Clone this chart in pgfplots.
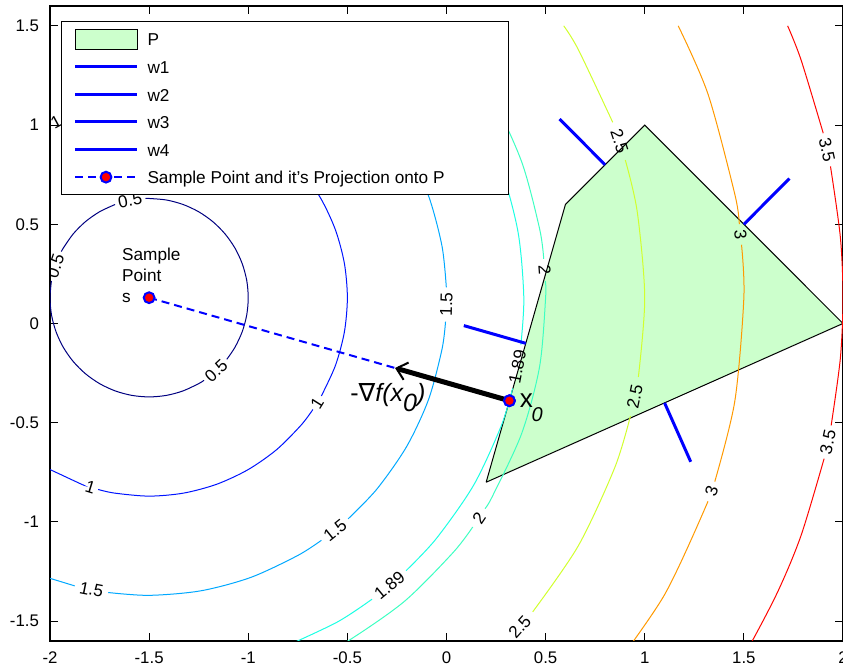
\documentclass[border=0pt]{standalone}
\usepackage{fontspec}
\setmainfont{Liberation Sans}
\newfontfamily\dejavu{DejaVu Sans}
\usepackage{pgfplots}
\pgfplotsset{compat=1.18}
\usetikzlibrary{arrows.meta}
\definecolor{c05}{rgb}{0,0,0.5}
\definecolor{c10}{rgb}{0,0.08,1}
\definecolor{c15}{rgb}{0,0.66,1}
\definecolor{c189}{rgb}{0.11,1,0.89}
\definecolor{c20}{rgb}{0.24,1,0.76}
\definecolor{c25}{rgb}{0.82,1,0.18}
\definecolor{c30}{rgb}{1,0.6,0}
\definecolor{c35}{rgb}{1,0.02,0}
\definecolor{polyg}{rgb}{0.8,1,0.8}
\newcommand\lbl{\fontsize{8.6}{10}\selectfont}
\newcommand\lst{\rule[-2.2pt]{0pt}{10.5pt}}
\pgfplotsset{
  patchlegend/.style={legend image code/.code={\draw[##1] (0pt,-5pt) rectangle (31pt,5pt);}},
  linelegend/.style={legend image code/.code={\draw[mark repeat=2,mark phase=2,##1] plot coordinates {(0pt,0pt) (15.5pt,0pt) (31pt,0pt)};}},
}
\begin{document}
\begin{tikzpicture}
\begin{axis}[
  scale only axis, width=396.5pt, height=317.5pt,
  xmin=-2, xmax=2, ymin=-1.6, ymax=1.6,
  xtick={-2,-1.5,-1,-0.5,0,0.5,1,1.5,2},
  ytick={-1.5,-1,-0.5,0,0.5,1,1.5},
  tick align=inside, major tick length=4pt,
  tick style={black, line width=0.5pt},
  axis line style={black, line width=0.6pt},
  every tick label/.append style={font=\fontsize{8.4}{10}\selectfont},
  /pgf/number format/assume math mode=true,
  xticklabel style={yshift=-2pt},
  yticklabel style={xshift=-2pt},
  legend cell align=left,
  linelegend,
  legend style={at={(axis cs:-1.9445,1.525)}, anchor=north west, font=\lbl,
    draw=black, line width=0.5pt, fill=white, inner xsep=6pt, inner ysep=2pt,
    nodes={inner sep=2pt}, row sep=0pt,
    /tikz/every odd column/.append style={column sep=2.5pt}},
]
% polygon P
\addplot[fill=polyg, draw=black, line width=0.5pt, patchlegend]
  coordinates {(0.2,-0.8) (0.6,0.6) (1,1) (2,0) (0.2,-0.8)};

% contour 0.5
\addplot[c05, line width=0.5pt, smooth, forget plot] coordinates {(-1.1082,-0.1806) (-1.0670,-0.1200) (-1.0302,-0.0410) (-1.0076,0.0432) (-1.0,0.13) (-1.0076,0.2168) (-1.0302,0.3010) (-1.0670,0.3800) (-1.1170,0.4514) (-1.1786,0.5130) (-1.25,0.5630) (-1.3290,0.5998) (-1.4132,0.6224) (-1.5,0.63) (-1.5183,0.6297)};
\addplot[c05, line width=0.5pt, smooth, forget plot] coordinates {(-1.6718,0.5996) (-1.75,0.5630) (-1.8214,0.5130) (-1.8830,0.4514) (-1.9330,0.3800) (-1.9427,0.3624)};
\addplot[c05, line width=0.5pt, smooth, forget plot] coordinates {(-1.9929,0.2142) (-2.0,0.13) (-1.9924,0.0432) (-1.9698,-0.0410) (-1.9330,-0.1200) (-1.8830,-0.1914) (-1.8214,-0.2530) (-1.75,-0.3030) (-1.6710,-0.3398) (-1.5868,-0.3624) (-1.5,-0.37) (-1.4132,-0.3624) (-1.3290,-0.3398) (-1.25,-0.3030) (-1.2233,-0.2865)};

% contour 1
\addplot[c10, line width=0.5pt, smooth, forget plot] coordinates {(-2.0,-0.7360) (-1.8420,-0.8097) (-1.8338,-0.8126)};
\addplot[c10, line width=0.5pt, smooth, forget plot] coordinates {(-1.7571,-0.8364) (-1.6737,-0.8548) (-1.5,-0.87) (-1.3264,-0.8548) (-1.1580,-0.8097) (-1.0,-0.7360) (-0.8572,-0.6360) (-0.7340,-0.5128) (-0.6739,-0.4335)};
\addplot[c10, line width=0.5pt, smooth, forget plot] coordinates {(-0.6314,-0.3655) (-0.5603,-0.2120) (-0.5152,-0.0437) (-0.5,0.13) (-0.5152,0.3037) (-0.5603,0.4720) (-0.6340,0.63) (-0.7340,0.7728) (-0.8572,0.8960) (-1.0,0.9960) (-1.1580,1.0697) (-1.3264,1.1148) (-1.5,1.13) (-1.6737,1.1148) (-1.8420,1.0697) (-1.9352,1.0303)};

% contour 1.5
\addplot[c15, line width=0.5pt, smooth, forget plot] coordinates {(-2.0,-1.2842) (-1.8756,-1.3222)};
\addplot[c15, line width=0.5pt, smooth, forget plot] coordinates {(-1.7062,-1.3558) (-1.5,-1.37) (-1.2395,-1.3472) (-0.9870,-1.2795) (-0.75,-1.1690) (-0.6311,-1.0927)};
\addplot[c15, line width=0.5pt, smooth, forget plot] coordinates {(-0.4963,-0.9847) (-0.3509,-0.8342) (-0.2010,-0.62) (-0.0905,-0.3830) (-0.0228,-0.1305) (-0.0048,0.0097)};
\addplot[c15, line width=0.5pt, smooth, forget plot] coordinates {(-0.0009,0.1824) (-0.0228,0.3905) (-0.0905,0.6430) (-0.2010,0.88) (-0.3509,1.0942) (-0.5358,1.2791) (-0.75,1.4290) (-0.8892,1.5)};

% contour 1.89
\addplot[c189, line width=0.5pt, smooth, forget plot] coordinates {(-0.8536,-1.6460) (-0.555,-1.5068) (-0.3757,-1.3894)};
\addplot[c189, line width=0.5pt, smooth, forget plot] coordinates {(-0.2038,-1.2455) (-0.0522,-1.0849) (0.1368,-0.815) (0.2760,-0.5164) (0.3339,-0.3272)};
\addplot[c189, line width=0.5pt, smooth, forget plot] coordinates {(0.3751,-0.1069) (0.39,0.13) (0.3613,0.4582) (0.2760,0.7764) (0.1368,1.075) (-0.0522,1.3449) (-0.1980,1.5)};

% contour 2
\addplot[c20, line width=0.5pt, smooth, forget plot] coordinates {(-0.6548,-1.6826) (-0.5,-1.6021) (-0.2144,-1.4021) (0.0321,-1.1556) (0.1323,-1.0257)};
\addplot[c20, line width=0.5pt, smooth, forget plot] coordinates {(0.1942,-0.9328) (0.2321,-0.87) (0.3794,-0.5540) (0.4696,-0.2173) (0.5,0.13) (0.4982,0.2138)};
\addplot[c20, line width=0.5pt, smooth, forget plot] coordinates {(0.4905,0.3252) (0.4696,0.4773) (0.3794,0.8140) (0.2321,1.13) (0.0321,1.4156) (-0.0429,1.5)};

% contour 2.5
\addplot[c25, line width=0.5pt, smooth, forget plot] coordinates {(0.4346,-1.4535) (0.6651,-1.12) (0.8492,-0.7251) (0.9278,-0.4663)};
\addplot[c25, line width=0.5pt, smooth, forget plot] coordinates {(0.9679,-0.2697) (1.0,0.13) (0.9620,0.5641) (0.9020,0.8233)};
\addplot[c25, line width=0.5pt, smooth, forget plot] coordinates {(0.8386,1.0137) (0.6651,1.38) (0.5912,1.5)};

% contour 3
\addplot[c30, line width=0.5pt, smooth, forget plot] coordinates {(0.7981,-1.7984) (1.0981,-1.37) (1.3191,-0.8961)};
\addplot[c30, line width=0.5pt, smooth, forget plot] coordinates {(1.3532,-0.7971) (1.4544,-0.3910) (1.5,0.13) (1.4881,0.3967)};
\addplot[c30, line width=0.5pt, smooth, forget plot] coordinates {(1.4770,0.5008) (1.4544,0.6510) (1.3191,1.1561) (1.1689,1.5)};

% contour 3.5
\addplot[c35, line width=0.5pt, smooth, forget plot] coordinates {(1.4353,-1.7762) (1.5311,-1.62) (1.6721,-1.3492) (1.7889,-1.0671) (1.9047,-0.6811)};
\addplot[c35, line width=0.5pt, smooth, forget plot] coordinates {(1.9403,-0.5139) (1.9867,-0.1751) (2.0,0.13) (1.9867,0.4351) (1.9369,0.7918)};
\addplot[c35, line width=0.5pt, smooth, forget plot] coordinates {(1.9004,0.9589) (1.7889,1.3271) (1.7208,1.5)};

% w lines
\addplot[blue, line width=1.5pt] coordinates {(0.8,0.8) (0.570,1.030)};
\addplot[blue, line width=1.5pt] coordinates {(1.5,0.5) (1.730,0.730)};
\addplot[blue, line width=1.5pt] coordinates {(0.4,-0.1) (0.0875,-0.0107)};
\addplot[blue, line width=1.5pt] coordinates {(1.1,-0.4) (1.232,-0.697)};

% sample point and projection
\addplot[blue, line width=1pt, dash pattern=on 4pt off 2.5pt, mark=*, mark size=2.7pt,
  mark options={solid, fill=red, draw=blue, line width=1pt}]
  coordinates {(-1.5,0.13) (0.3174,-0.3892)};

% gradient arrow
\addplot[black, line width=2.5pt, -{Straight Barb[length=5pt,width=9pt,line width=1pt]}, forget plot] coordinates {(0.3174,-0.3892) (-0.2595,-0.2244)};

% redraw projection marker on top of the arrow
\addplot[blue, only marks, mark=*, mark size=2.7pt,
  mark options={solid, fill=red, draw=blue, line width=1pt}, forget plot]
  coordinates {(0.3174,-0.3892)};

% contour labels
\node[rotate=11.1, font=\lbl, inner sep=0] at (axis cs:-1.5963,0.6206) {0.5};
\node[rotate=71.3, font=\lbl, inner sep=0] at (axis cs:-1.9736,0.2903) {0.5};
\node[rotate=42.6, font=\lbl, inner sep=0] at (axis cs:-1.1616,-0.2381) {0.5};
\node[rotate=58, font=\lbl, inner sep=0] at (axis cs:-0.6520,-0.3999) {1};
\node[rotate=-17.2, font=\lbl, inner sep=0] at (axis cs:-1.7957,-0.8253) {1};
\node[rotate=28, font=\lbl, inner sep=0] at (axis cs:-1.9695,1.0130) {1};
\node[rotate=-11.2, font=\lbl, inner sep=0] at (axis cs:-1.7913,-1.3414) {1.5};
\node[rotate=38.7, font=\lbl, inner sep=0] at (axis cs:-0.5621,-1.0406) {1.5};
\node[rotate=88.7, font=\lbl, inner sep=0] at (axis cs:-0.0004,0.0960) {1.5};
\node[rotate=39.9, font=\lbl, inner sep=0] at (axis cs:-0.2877,-1.3200) {1.89};
\node[rotate=79.4, font=\lbl, inner sep=0] at (axis cs:0.3578,-0.2177) {1.89};
\node[rotate=56.3, font=\lbl, inner sep=0] at (axis cs:0.1639,-0.9797) {2};
\node[rotate=-86, font=\lbl, inner sep=0] at (axis cs:0.4951,0.2695) {2};
\node[rotate=48.4, font=\lbl, inner sep=0] at (axis cs:0.3695,-1.5298) {2.5};
\node[rotate=78.5, font=\lbl, inner sep=0] at (axis cs:0.9498,-0.3684) {2.5};
\node[rotate=-71.6, font=\lbl, inner sep=0] at (axis cs:0.8722,0.9191) {2.5};
\node[rotate=-83.9, font=\lbl, inner sep=0] at (axis cs:1.4830,0.4488) {3};
\node[rotate=71, font=\lbl, inner sep=0] at (axis cs:1.3366,-0.8467) {3};
\node[rotate=-77.7, font=\lbl, inner sep=0] at (axis cs:1.9197,0.8756) {3.5};
\node[rotate=78, font=\lbl, inner sep=0] at (axis cs:1.9235,-0.5977) {3.5};

% annotations
\node[anchor=north west, align=left, inner sep=0, font=\fontsize{8.6}{10.65}\selectfont] at (axis cs:-1.638,0.383) {Sample\\Point\\s};
\node[anchor=base west, inner sep=0, font=\fontsize{12.5}{14}\selectfont] at (axis cs:-0.487,-0.392) {-{\dejavu ∇}\textit{f(x\raisebox{-5pt}{0})}};
\node[anchor=base west, inner sep=0, font=\fontsize{13}{15}\selectfont] at (axis cs:0.368,-0.424) {x};
\node[anchor=base west, inner sep=0, font=\fontsize{10}{12}\selectfont] at (axis cs:0.428,-0.493) {\textit{0}};

\legend{\lst P, \lst w1, \lst w2, \lst w3, \lst w4, \lst Sample Point and it's Projection onto P\hspace{24pt}\mbox{}}
\end{axis}
\pgfresetboundingbox
\path (-25pt,-13.5pt) rectangle (396.5pt,320.5pt);
\end{tikzpicture}
\end{document}
